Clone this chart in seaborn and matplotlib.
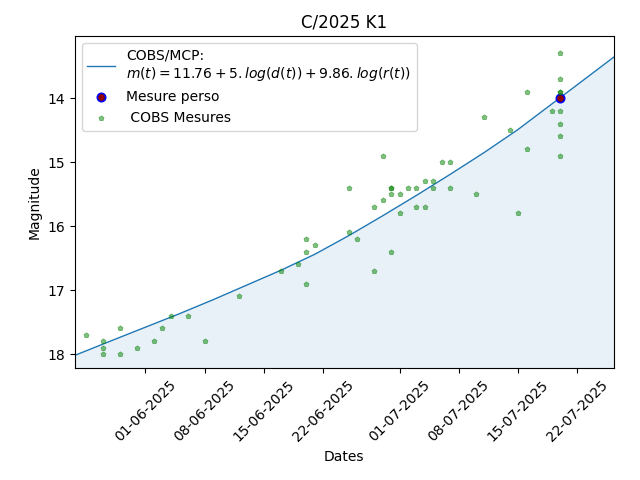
import matplotlib
matplotlib.use("Agg")
import matplotlib.pyplot as plt
import matplotlib.dates as mdates
import seaborn as sns
import pandas as pd

# Model curve (COBS/MCP), magnitudes
model_dates = ["2025-05-23 16:00", "2025-05-28 00:00", "2025-06-01 00:00", "2025-06-05 00:00",
               "2025-06-09 00:00", "2025-06-13 00:00", "2025-06-17 00:00", "2025-06-21 00:00",
               "2025-06-25 00:00", "2025-06-29 00:00", "2025-07-03 00:00", "2025-07-07 00:00",
               "2025-07-11 00:00", "2025-07-15 00:00", "2025-07-19 00:00", "2025-07-23 00:00",
               "2025-07-26 07:00"]
model_mag = [18.02, 17.79, 17.58, 17.37, 17.15, 16.92, 16.69, 16.44,
             16.15, 15.84, 15.52, 15.19, 14.85, 14.49, 14.09, 13.69, 13.36]

# COBS measurements
cobs_dates = ["2025-05-25",
              "2025-05-27", "2025-05-27", "2025-05-27",
              "2025-05-29", "2025-05-29",
              "2025-05-31", "2025-06-02", "2025-06-03", "2025-06-04",
              "2025-06-06", "2025-06-08", "2025-06-12", "2025-06-17",
              "2025-06-19",
              "2025-06-20", "2025-06-20", "2025-06-20",
              "2025-06-21",
              "2025-06-25", "2025-06-25",
              "2025-06-26",
              "2025-06-28", "2025-06-28",
              "2025-06-29", "2025-06-29",
              "2025-06-30", "2025-06-30", "2025-06-30", "2025-06-30",
              "2025-07-01", "2025-07-01",
              "2025-07-02",
              "2025-07-03", "2025-07-03",
              "2025-07-04", "2025-07-04",
              "2025-07-05", "2025-07-05",
              "2025-07-06",
              "2025-07-07", "2025-07-07",
              "2025-07-10", "2025-07-11", "2025-07-14", "2025-07-15",
              "2025-07-16", "2025-07-16",
              "2025-07-19",
              "2025-07-20", "2025-07-20", "2025-07-20", "2025-07-20",
              "2025-07-20", "2025-07-20", "2025-07-20", "2025-07-20"]
cobs_mag = [17.7,
            17.8, 17.9, 18.0,
            17.6, 18.0,
            17.9, 17.8, 17.6, 17.4,
            17.4, 17.8, 17.1, 16.7,
            16.6,
            16.4, 16.2, 16.9,
            16.3,
            15.4, 16.1,
            16.2,
            15.7, 16.7,
            14.9, 15.6,
            15.4, 15.4, 15.5, 16.4,
            15.5, 15.8,
            15.4,
            15.4, 15.7,
            15.3, 15.7,
            15.3, 15.4,
            15.0,
            15.0, 15.4,
            15.5, 14.3, 14.5, 15.8,
            13.9, 14.8,
            14.2,
            13.3, 13.7, 13.9, 13.9, 14.2, 14.4, 14.6, 14.9]

# Personal measurement
perso_dates = ["2025-07-20"]
perso_mag = [14.0]

model_df = pd.DataFrame({"date": pd.to_datetime(model_dates, format="%Y-%m-%d %H:%M"),
                         "mag": model_mag})
cobs_df = pd.DataFrame({"date": pd.to_datetime(cobs_dates, format="%Y-%m-%d"), "mag": cobs_mag})
perso_df = pd.DataFrame({"date": pd.to_datetime(perso_dates, format="%Y-%m-%d"), "mag": perso_mag})

fig, ax = plt.subplots(figsize=(6.4, 4.8), dpi=100)

y_bottom = 18.22
y_top = 13.03

sns.lineplot(data=model_df, x="date", y="mag", ax=ax, color="#1f77b4", lw=1,
             label="COBS/MCP:\n$m(t) = 11.76 + 5. log(d(t)) + 9.86. log(r(t))$")
ax.fill_between(model_df["date"], model_df["mag"], y_bottom,
                color="#1f77b4", alpha=0.1, linewidth=0)

sns.scatterplot(data=perso_df, x="date", y="mag", ax=ax, marker="o",
                color="darkred", edgecolor="blue", linewidth=1.2, s=36,
                label="Mesure perso", zorder=3)
sns.scatterplot(data=cobs_df, x="date", y="mag", ax=ax, marker="p",
                color="green", edgecolor="green", linewidth=0.5, alpha=0.5,
                s=15, label=" COBS Mesures", zorder=4)

ax.set_xlim(model_df["date"].iloc[0], model_df["date"].iloc[-1])
ax.set_ylim(y_bottom, y_top)

ax.xaxis.set_major_locator(mdates.DayLocator(bymonthday=[1, 8, 15, 22]))
ax.xaxis.set_major_formatter(mdates.DateFormatter("%d-%m-%Y"))
plt.setp(ax.get_xticklabels(), rotation=45)

ax.set_title("C/2025 K1")
ax.set_xlabel("Dates")
ax.set_ylabel("Magnitude")
ax.legend(loc="upper left")

fig.subplots_adjust(left=0.117, right=0.959, top=0.925, bottom=0.233)
fig.savefig("out.png", dpi=100)
